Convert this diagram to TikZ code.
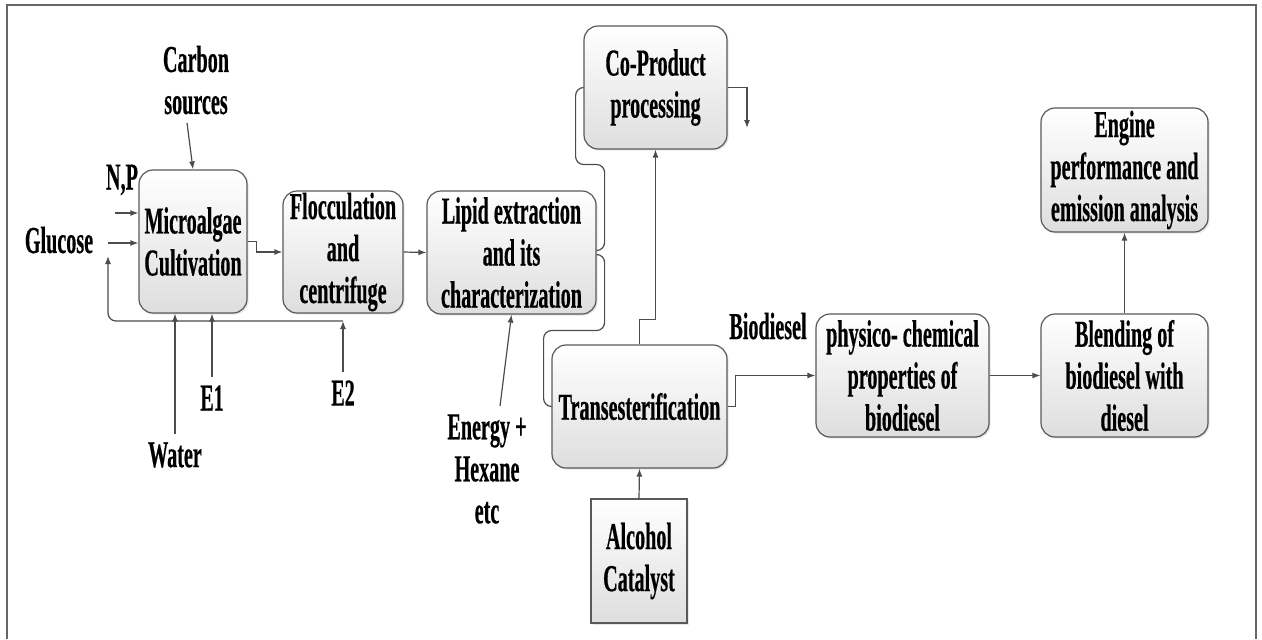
\documentclass[tikz,border=0pt]{standalone}
\usepackage{fontspec}
\setmainfont{Liberation Serif}[FakeStretch=0.53,FakeBold=0.4]
\usetikzlibrary{arrows.meta,shadows}

\begin{document}
\begin{tikzpicture}[x=0.5pt,y=-0.5pt,
		every node/.style={font=\bfseries\fontsize{19}{21}\selectfont, align=center},
		proc/.style={draw=black!65, line width=0.6pt, rounded corners=7pt, top color=white, bottom color=black!13,
			drop shadow={shadow xshift=0.8pt,shadow yshift=-0.8pt,opacity=0.2}, inner sep=0pt},
		feed/.style={inner sep=4pt},
		line/.style={draw=black!70, line width=0.6pt},
		arr/.style={line, -{Latex[length=4pt,width=3pt]}}]
		\useasboundingbox (0,0) rectangle (1262,639);
		\draw[draw=black!60, line width=0.8pt] (7,639) |- (1256,5) -- (1256,639);
		% process boxes
		\node[proc, minimum width=54pt, minimum height=71.5pt] (micro) at (193,241.5) {Microalgae\\Cultivation};
		\node[proc, minimum width=60pt, minimum height=61pt] (floc) at (343,252) {Flocculation\\and\\centrifuge};
		\node[proc, minimum width=84.5pt, minimum height=61.5pt] (lipid) at (511.5,252.5) {Lipid extraction\\and its\\characterization};
		\node[proc, minimum width=71.5pt, minimum height=61.5pt] (coprod) at (655.5,87.5) {Co-Product\\processing};
		\node[proc, minimum width=87.5pt, minimum height=61.5pt] (trans) at (639.5,406.5) {Transesterification};
		\node[proc, sharp corners, minimum width=48pt, minimum height=62pt] (alcohol) at (639,561) {Alcohol\\Catalyst};
		\node[proc, minimum width=86.5pt, minimum height=61.5pt] (physico) at (902.5,375.5) {physico- chemical\\properties of\\biodiesel};
		\node[proc, minimum width=83.5pt, minimum height=61.5pt] (blend) at (1124.5,375.5) {Blending of\\biodiesel with\\diesel};
		\node[proc, minimum width=83.5pt, minimum height=62pt] (engine) at (1124.5,170) {Engine\\performance and\\emission analysis};
		% inputs
		\node[feed] (carbon) at (196,80) {Carbon\\sources};
		\node (np) at (122,180) {N,P};
		\node (glucose) at (59,240) {Glucose};
		\node[feed] (water) at (175,455) {Water};
		\node[feed] (e1) at (212,398) {E1};
		\node[feed] (e2) at (343,393) {E2};
		\node[feed] (energy) at (487,469) {Energy +\\Hexane\\etc};
		\node (biod) at (768,326) {Biodiesel};
		\coordinate (npin) at (115,213);
		\coordinate (glin) at (108,243);
		\coordinate (recyc) at (108,256);
		\coordinate (loopend) at (343,321);
		\coordinate (coout) at (747,128);
		% connectors
		\draw[arr] ([xshift=-4.5pt]carbon.south) -- (micro.north);
		\draw[arr] (npin) -- (npin -| micro.west);
		\draw[arr] (glin) -- (glin -| micro.west);
		\draw[arr, rounded corners=4pt] (loopend) -| (recyc);
		\draw[arr] (water.north) -- (water.north |- micro.south);
		\draw[arr] (e1.north) -- (e1.north |- micro.south);
		\draw[arr] (e2.north) -- (loopend);
		\draw[arr] (micro.east) -- ++(9,0) |- (floc.west);
		\draw[arr] (floc.east) -- (lipid.west);
		\draw[arr] ([xshift=6.5pt]energy.north) -- (lipid.south);
		\draw[line, rounded corners=4pt] ([yshift=1pt]lipid.east) -- ++(8,0) -- ++(0,-86) -- ++(-29,0) |- (coprod.west);
		\draw[line, rounded corners=4pt] ([yshift=-1pt]lipid.east) -- ++(8,0) -- ++(0,76) -- ++(-61,0) |- (trans.west);
		\draw[arr] (trans.north) -- ++(0,-25) -| (coprod.south);
		\draw[arr] (coprod.east) -| (coout);
		\draw[arr] (alcohol.north) -- (trans.south);
		\draw[arr] (trans.east) -- ++(8,0) |- (physico.west);
		\draw[arr] (physico.east) -- (blend.west);
		\draw[arr] (blend.north) -- (engine.south);
	\end{tikzpicture}
\end{document}
